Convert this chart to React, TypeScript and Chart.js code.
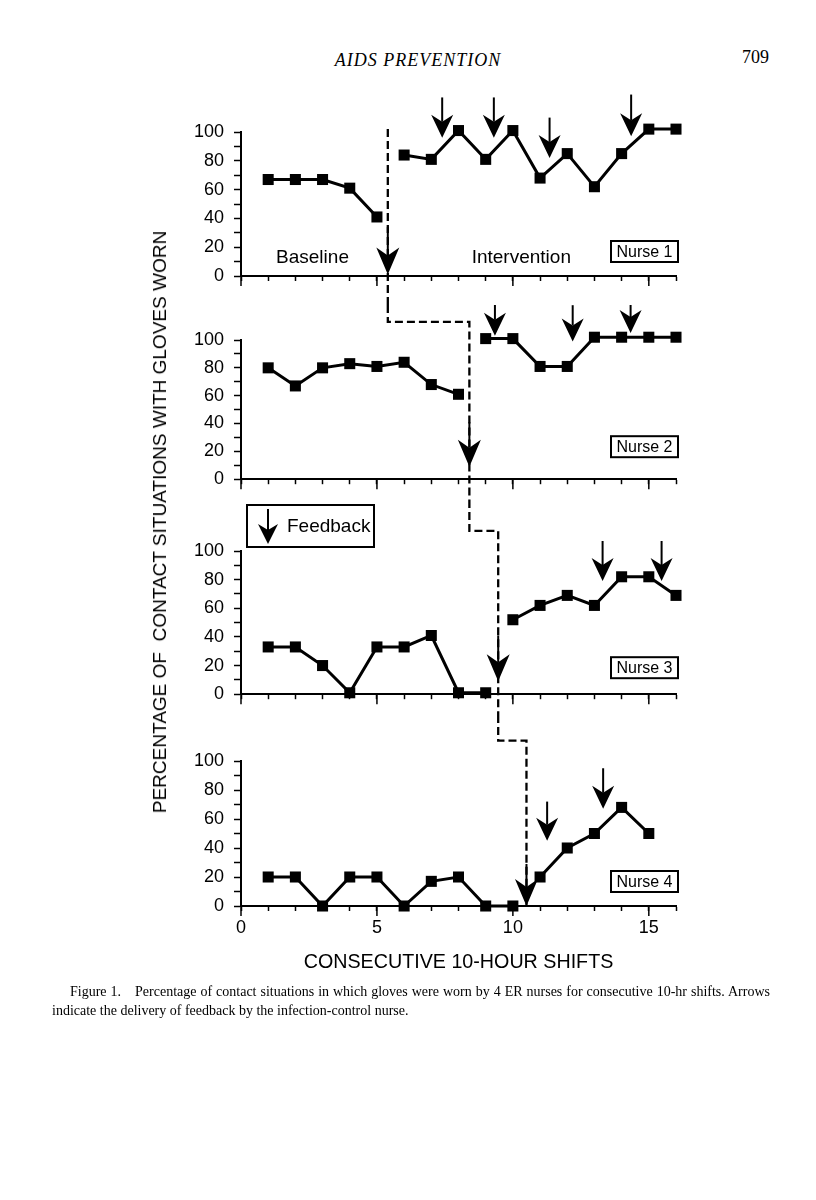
import React, { useEffect, useRef } from 'react';
import { Chart, registerables } from 'chart.js';

Chart.register(...registerables);

// ---------------- data ----------------
const shifts = [1, 2, 3, 4, 5, 6, 7, 8, 9, 10, 11, 12, 13, 14, 15, 16];

const n1Baseline = [67, 67, 67, 61, 41, null, null, null, null, null, null, null, null, null, null, null];
const n1Intervention = [null, null, null, null, null, 84, 81, 101, 81, 101, 68, 85, 62, 85, 102, 102];
const n2Baseline = [80, 67, 80, 83, 81, 84, 68, 61, null, null, null, null, null, null, null, null];
const n2Intervention = [null, null, null, null, null, null, null, null, 101, 101, 81, 81, 102, 102, 102, 102];
const n3Baseline = [33, 33, 20, 1, 33, 33, 41, 1, 1, null, null, null, null, null, null, null];
const n3Intervention = [null, null, null, null, null, null, null, null, null, 52, 62, 69, 62, 82, 82, 69];
const n4Baseline = [20, 20, 0, 20, 20, 0, 17, 20, 0, 0, null, null, null, null, null, null];
const n4Intervention = [null, null, null, null, null, null, null, null, null, null, 20, 40, 50, 68, 50, null];

const nurseNames = ['Nurse 1', 'Nurse 2', 'Nurse 3', 'Nurse 4'];
const phaseNames = ['Baseline', 'Intervention'];
const phaseNameX = [2.63, 10.31];
const phaseNameY = 13;

// phase change (dashed line) position per nurse, in shifts
const phaseChangeX = [5.4, 8.4, 9.46, 10.5];
const phaseLineStart = 102; // value where the first dashed line starts (panel 1)
const connectorLevel = [0, 113, 114, 114]; // value (own panel) where the step connector runs
const phaseArrowFrom = [34, 41, 41, 29];
const phaseArrowTip = [1, 9, 9, 0];

// feedback arrows
const n1FeedbackX = [7.4, 9.3, 11.35, 14.35];
const n1FeedbackTop = [124, 124, 110, 126];
const n1FeedbackTip = [96, 96, 82, 97];
const n2FeedbackX = [9.34, 12.2, 14.33];
const n2FeedbackTop = [131, 125, 132];
const n2FeedbackTip = [103, 99, 105];
const n3FeedbackX = [13.3, 15.47];
const n3FeedbackTop = [107, 107];
const n3FeedbackTip = [79, 79];
const n4FeedbackX = [11.26, 13.32];
const n4FeedbackTop = [72, 95];
const n4FeedbackTip = [45, 67];

const xMajorStep = 5;
const xTitle = 'CONSECUTIVE 10-HOUR SHIFTS';
const yTitle = 'PERCENTAGE OF  CONTACT SITUATIONS WITH GLOVES WORN';
const legendText = 'Feedback';

const series = [
  [n1Baseline, n1Intervention],
  [n2Baseline, n2Intervention],
  [n3Baseline, n3Intervention],
  [n4Baseline, n4Intervention],
];
const feedback = [
  [n1FeedbackX, n1FeedbackTop, n1FeedbackTip],
  [n2FeedbackX, n2FeedbackTop, n2FeedbackTip],
  [n3FeedbackX, n3FeedbackTop, n3FeedbackTip],
  [n4FeedbackX, n4FeedbackTop, n4FeedbackTip],
];

// ---------------- layout / style ----------------
const FONT = "'Liberation Sans', Arial, Helvetica, sans-serif";
const SERIF = "'Liberation Serif', 'Times New Roman', serif";

const panelLayout = [
  { top: 80, height: 225, padTop: 52, padBottom: 19, axisH: 10 },
  { top: 305, height: 195, padTop: 35, padBottom: 3, axisH: 10 },
  { top: 500, height: 215, padTop: 51, padBottom: 7, axisH: 10 },
  { top: 715, height: 275, padTop: 46, padBottom: 14, axisH: 70 },
];
const nurseBoxGap = [14, 22, 16, 14];

function drawArrow(ctx: CanvasRenderingContext2D, x: number, yTop: number, yTip: number, head = 23, half = 11, notch = 7) {
  ctx.save();
  ctx.setLineDash([]);
  ctx.strokeStyle = '#000';
  ctx.fillStyle = '#000';
  ctx.lineWidth = 2;
  ctx.beginPath();
  ctx.moveTo(x, yTop);
  ctx.lineTo(x, yTip - head + notch);
  ctx.stroke();
  ctx.beginPath();
  ctx.moveTo(x, yTip);
  ctx.lineTo(x - half, yTip - head);
  ctx.lineTo(x, yTip - head + notch);
  ctx.lineTo(x + half, yTip - head);
  ctx.closePath();
  ctx.fill();
  ctx.restore();
}

function makePlugin(i: number) {
  return {
    id: 'panelDecor' + i,
    afterDatasetsDraw(chart: any) {
      const { ctx, chartArea, scales } = chart;
      const X = (v: number) => scales.x.getPixelForValue(v);
      const Y = (v: number) => scales.y.getPixelForValue(v);
      ctx.save();
      ctx.strokeStyle = '#000';
      ctx.fillStyle = '#000';

      // longer major ticks on the x axis
      ctx.lineWidth = 1.5;
      scales.x.ticks.forEach((t: any) => {
        if (t.value % xMajorStep === 0) {
          const tx = X(t.value);
          ctx.beginPath();
          ctx.moveTo(tx, chartArea.bottom);
          ctx.lineTo(tx, chartArea.bottom + 10);
          ctx.stroke();
        }
      });

      // dashed phase-change line
      ctx.lineWidth = 2.3;
      ctx.setLineDash([8, 4]);
      ctx.beginPath();
      const px = X(phaseChangeX[i]);
      if (i === 0) {
        ctx.moveTo(px, Y(phaseLineStart));
      } else {
        const prev = X(phaseChangeX[i - 1]);
        const cy = Y(connectorLevel[i]);
        ctx.moveTo(prev, 0);
        ctx.lineTo(prev, cy);
        ctx.lineTo(px, cy);
      }
      ctx.lineTo(px, i === 3 ? Y(phaseArrowTip[i]) : chart.height);
      ctx.stroke();
      ctx.setLineDash([]);

      // phase arrow
      drawArrow(ctx, px, Y(phaseArrowFrom[i]), Y(phaseArrowTip[i]), 27, 11.5, 8);

      // feedback arrows
      const [fx, ft, fp] = feedback[i];
      fx.forEach((xv, k) => drawArrow(ctx, X(xv), Y(ft[k]), Y(fp[k])));

      // nurse box
      ctx.font = `16px ${FONT}`;
      const bw = 67, bh = 21;
      const bx = chartArea.right + 2 - bw;
      const by = chartArea.bottom - nurseBoxGap[i] - bh;
      ctx.lineWidth = 2;
      ctx.strokeRect(bx, by, bw, bh);
      ctx.textAlign = 'center';
      ctx.textBaseline = 'middle';
      ctx.fillText(nurseNames[i], bx + bw / 2, by + bh / 2 + 1);

      if (i === 0) {
        ctx.font = `19px ${FONT}`;
        phaseNames.forEach((n, k) => ctx.fillText(n, X(phaseNameX[k]), Y(phaseNameY)));
      }
      if (i === 2) {
        // legend box
        const lx = chartArea.left + 6, ly = chartArea.top - 46, lw = 127, lh = 42;
        ctx.lineWidth = 2;
        ctx.strokeRect(lx, ly, lw, lh);
        drawArrow(ctx, lx + 21, ly + 4, ly + 39, 20, 10, 6);
        ctx.font = `19px ${FONT}`;
        ctx.textAlign = 'left';
        ctx.fillText(legendText, lx + 40, ly + 22);
      }
      ctx.restore();
    },
  };
}

function buildConfig(i: number): any {
  const L = panelLayout[i];
  const gridOpts = (len: number) => ({
    display: true,
    drawOnChartArea: false,
    drawTicks: true,
    tickLength: len,
    tickWidth: 1.5,
    tickColor: '#000',
    color: '#000',
  });
  return {
    type: 'line',
    data: {
      datasets: series[i].map((arr) => ({
        data: shifts.map((s, k) => ({ x: s, y: arr[k] })),
        borderColor: '#000',
        borderWidth: 3,
        pointStyle: 'rect',
        pointRadius: 7.8,
        pointBackgroundColor: '#000',
        pointBorderColor: '#000',
        pointBorderWidth: 0,
        clip: false,
        spanGaps: false,
        tension: 0,
        fill: false,
      })),
    },
    options: {
      responsive: false,
      animation: false,
      devicePixelRatio: 1,
      events: [],
      layout: { padding: { left: 181, right: 140, top: L.padTop, bottom: L.padBottom } },
      plugins: { legend: { display: false }, tooltip: { enabled: false }, title: { display: false } },
      scales: {
        x: {
          type: 'linear',
          min: 0,
          max: 16,
          afterFit: (s: any) => { s.height = L.axisH; },
          ticks: {
            stepSize: 1,
            autoSkip: false,
            maxRotation: 0,
            padding: 6,
            color: '#000',
            font: { family: FONT, size: 18 },
            callback: (v: number) => (i === 3 && v % xMajorStep === 0 ? String(v) : ''),
          },
          grid: gridOpts(5),
          border: { color: '#000', width: 2 },
          title: i === 3
            ? { display: true, text: xTitle, color: '#000', font: { family: FONT, size: 19.7 }, padding: { top: 0, bottom: 2 } }
            : { display: false },
        },
        y: {
          min: 0,
          max: 100,
          afterFit: (s: any) => { s.width = 60; },
          ticks: {
            stepSize: 10,
            autoSkip: false,
            padding: 10,
            color: '#000',
            font: { family: FONT, size: 18 },
            callback: (v: number) => (v % 20 === 0 ? String(v) : ''),
          },
          grid: gridOpts(7),
          border: { color: '#000', width: 2 },
        },
      },
    },
    plugins: [makePlugin(i)],
  };
}

export default function App() {
  const r0 = useRef<HTMLCanvasElement>(null);
  const r1 = useRef<HTMLCanvasElement>(null);
  const r2 = useRef<HTMLCanvasElement>(null);
  const r3 = useRef<HTMLCanvasElement>(null);
  const refs = [r0, r1, r2, r3];

  useEffect(() => {
    const charts = refs.map((r, i) => new Chart(r.current as HTMLCanvasElement, buildConfig(i)));
    return () => charts.forEach((c) => c.destroy());
  }, []);

  return (
    <div style={{ position: 'absolute', left: 0, top: 0, width: 816, height: 1200, background: '#fff', overflow: 'hidden' }}>
      <div style={{ position: 'absolute', left: 418, top: 50, transform: 'translateX(-50%)', fontFamily: SERIF, fontStyle: 'italic', fontSize: 18, lineHeight: '20px', letterSpacing: 1, whiteSpace: 'nowrap' }}>
        AIDS PREVENTION
      </div>
      <div style={{ position: 'absolute', left: 742, top: 47, fontFamily: SERIF, fontSize: 18, lineHeight: '20px' }}>709</div>

      {panelLayout.map((L, i) => (
        <canvas
          key={i}
          ref={refs[i]}
          width={816}
          height={L.height}
          style={{ position: 'absolute', left: 0, top: L.top, width: 816, height: L.height, display: 'block' }}
        />
      ))}

      <div style={{ position: 'absolute', left: 160, top: 522, transform: 'translate(-50%, -50%) rotate(-90deg)', fontFamily: FONT, fontSize: 19, whiteSpace: 'pre', lineHeight: '22px' }}>
        {yTitle}
      </div>

      <div style={{ position: 'absolute', left: 70, top: 982, width: 700, fontFamily: SERIF, fontSize: 14, lineHeight: '19px', textAlign: 'justify', textAlignLast: 'justify' as any, whiteSpace: 'nowrap' }}>
        Figure 1.{'\u2003'}Percentage of contact situations in which gloves were worn by 4 ER nurses for consecutive 10-hr shifts. Arrows
      </div>
      <div style={{ position: 'absolute', left: 52, top: 1001, fontFamily: SERIF, fontSize: 14, lineHeight: '19px', whiteSpace: 'nowrap' }}>
        indicate the delivery of feedback by the infection-control nurse.
      </div>
    </div>
  );
}
